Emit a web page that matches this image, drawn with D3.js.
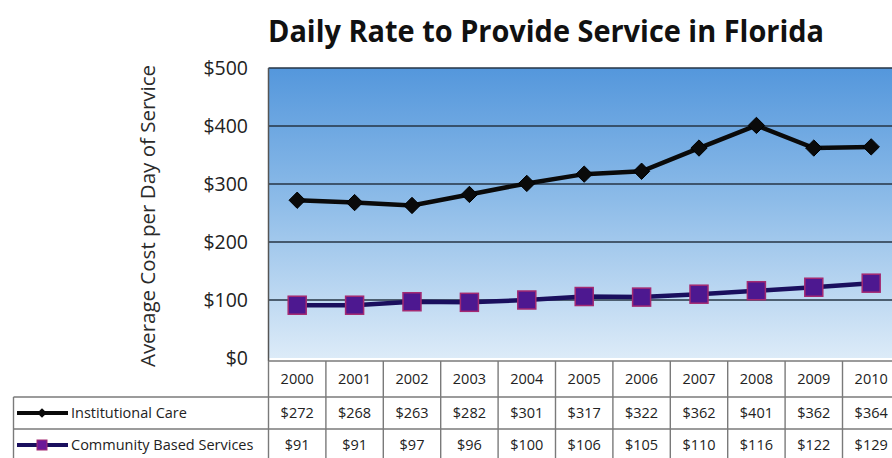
<!DOCTYPE html>
<html><head><meta charset="utf-8">
<script src="https://cdn.jsdelivr.net/npm/d3@7"></script>
<style>body{margin:0;background:#fff;overflow:hidden}</style>
</head><body>
<script>
const years = ["2000","2001","2002","2003","2004","2005","2006","2007","2008","2009","2010"];
const institutional = [272,268,263,282,301,317,322,362,401,362,364];
const community = [91,91,97,96,100,106,105,110,116,122,129];
const seriesNames = ["Institutional Care","Community Based Services"];
const yTicks = [0,100,200,300,400,500];
const title = "Daily Rate to Provide Service in Florida";
const yLabel = "Average Cost per Day of Service";

(function(){
const W = 892, H = 458;
const font = "'Open Sans', 'Noto Sans', sans-serif";
const svg = d3.select("body").append("svg").attr("width", W).attr("height", H);

const pLeft = 268.5, colW = 57.4, pRight = pLeft + colW * years.length;
const pTop = 68, pBottom = 358;
const tableTop = 361, rowH = [36, 32, 32];

const x = d3.scaleBand().domain(years).range([pLeft, pRight]).padding(0);
const y = d3.scaleLinear().domain([0, 500]).range([pBottom, pTop]);

const defs = svg.append("defs");
const g = defs.append("linearGradient").attr("id","bg").attr("x1",0).attr("y1",0).attr("x2",0).attr("y2",1);
g.append("stop").attr("offset","0%").attr("stop-color","#5497dc");
g.append("stop").attr("offset","45%").attr("stop-color","#8cbbe8");
g.append("stop").attr("offset","100%").attr("stop-color","#dcebf8");
svg.append("rect").attr("x",pLeft).attr("y",pTop).attr("width",pRight-pLeft).attr("height",pBottom-pTop).attr("fill","url(#bg)");

svg.append("g").selectAll("line").data(yTicks.filter(d=>d>0)).join("line")
  .attr("x1",pLeft).attr("x2",pRight).attr("y1",d=>y(d)).attr("y2",d=>y(d))
  .attr("stroke","#263445").attr("stroke-width",1.6);
svg.append("line").attr("x1",pLeft).attr("x2",pLeft).attr("y1",pTop).attr("y2",pBottom+3)
  .attr("stroke","#555").attr("stroke-width",1.5);

const yAxis = d3.axisLeft(y).tickValues(yTicks).tickFormat(d=>"$"+d).tickSize(0).tickPadding(0);
const ya = svg.append("g").attr("transform",`translate(248,0)`).call(yAxis);
ya.select(".domain").remove();
ya.selectAll("text").attr("font-family",font).attr("font-size",19.5).attr("fill","#222").attr("dy","0.35em");

svg.append("text").attr("transform",`translate(155,216) rotate(-90)`).attr("text-anchor","middle")
  .attr("font-family",font).attr("font-size",20.5).attr("fill","#2a2a2a").text(yLabel);

svg.append("text").attr("x",546).attr("y",42).attr("text-anchor","middle")
  .attr("font-family",font).attr("font-weight",700).attr("font-size",30).attr("fill","#111")
  .attr("textLength",556).attr("lengthAdjust","spacingAndGlyphs").text(title);

const cx = d => x(d) + x.bandwidth()/2;
const line = d3.line().x((d,i)=>cx(years[i])).y(d=>y(d));
svg.append("path").datum(community).attr("d",line).attr("fill","none").attr("stroke","#1a0f5e").attr("stroke-width",4.5);
svg.append("path").datum(institutional).attr("d",line).attr("fill","none").attr("stroke","#0a0a0a").attr("stroke-width",4.5);

svg.append("g").selectAll("rect").data(community).join("rect")
  .attr("x",(d,i)=>cx(years[i])-9).attr("y",d=>y(d)-9).attr("width",18).attr("height",18)
  .attr("fill","#4d1890").attr("stroke","#a42a72").attr("stroke-width",1.5);
svg.append("g").selectAll("path").data(institutional).join("path")
  .attr("d",d3.symbol().type(d3.symbolDiamond2).size(170))
  .attr("transform",(d,i)=>`translate(${cx(years[i])},${y(d)})`)
  .attr("fill","#0a0a0a").attr("stroke","#000").attr("stroke-width",1);

const tg = svg.append("g");
const lineColor = "#7a7a7a";
const r0 = tableTop, r1 = r0 + rowH[0], r2 = r1 + rowH[1], r3 = r2 + rowH[2];
const legLeft = 13.5;
tg.append("line").attr("x1",pLeft).attr("x2",pRight).attr("y1",r0).attr("y2",r0).attr("stroke",lineColor).attr("stroke-width",1.6);
[r1, r2].forEach(v => tg.append("line").attr("x1",legLeft).attr("x2",pRight).attr("y1",v).attr("y2",v).attr("stroke",lineColor).attr("stroke-width",1.6));
d3.range(years.length+1).forEach(i => {
  const xv = pLeft + i*colW;
  tg.append("line").attr("x1",xv).attr("x2",xv).attr("y1",r0).attr("y2",r3).attr("stroke",lineColor).attr("stroke-width",1.4);
});
tg.append("line").attr("x1",legLeft).attr("x2",legLeft).attr("y1",r1).attr("y2",r3).attr("stroke",lineColor).attr("stroke-width",1.4);

const cellText = (sel, rowTop, h) => sel.attr("x",d=>d.x).attr("y",rowTop + h/2).attr("dy","0.36em")
  .attr("text-anchor","middle").attr("font-family",font).attr("font-size",14.5).attr("fill","#222");
cellText(tg.append("g").selectAll("text").data(years.map(yy=>({x:cx(yy),t:yy}))).join("text"), r0, rowH[0]).text(d=>d.t);
cellText(tg.append("g").selectAll("text").data(institutional.map((v,i)=>({x:cx(years[i]),t:"$"+v}))).join("text"), r1, rowH[1]).text(d=>d.t);
cellText(tg.append("g").selectAll("text").data(community.map((v,i)=>({x:cx(years[i]),t:"$"+v}))).join("text"), r2, rowH[2]).text(d=>d.t);

const ly1 = r1 + rowH[1]/2, ly2 = r2 + rowH[2]/2;
tg.append("line").attr("x1",17).attr("x2",68).attr("y1",ly1).attr("y2",ly1).attr("stroke","#0a0a0a").attr("stroke-width",4);
tg.append("path").attr("d",d3.symbol().type(d3.symbolDiamond2).size(60)).attr("transform",`translate(42,${ly1})`).attr("fill","#0a0a0a");
tg.append("line").attr("x1",17).attr("x2",68).attr("y1",ly2).attr("y2",ly2).attr("stroke","#1a0f5e").attr("stroke-width",4);
tg.append("rect").attr("x",37).attr("y",ly2-5).attr("width",10).attr("height",10).attr("fill","#6a1898").attr("stroke","#a42a72").attr("stroke-width",1);
tg.append("text").attr("x",71).attr("y",ly1).attr("dy","0.36em").attr("font-family",font).attr("font-size",14.5).attr("fill","#222").text(seriesNames[0]);
tg.append("text").attr("x",71).attr("y",ly2).attr("dy","0.36em").attr("font-family",font).attr("font-size",14.5).attr("fill","#222").text(seriesNames[1]);
})();
</script>
</body></html>
